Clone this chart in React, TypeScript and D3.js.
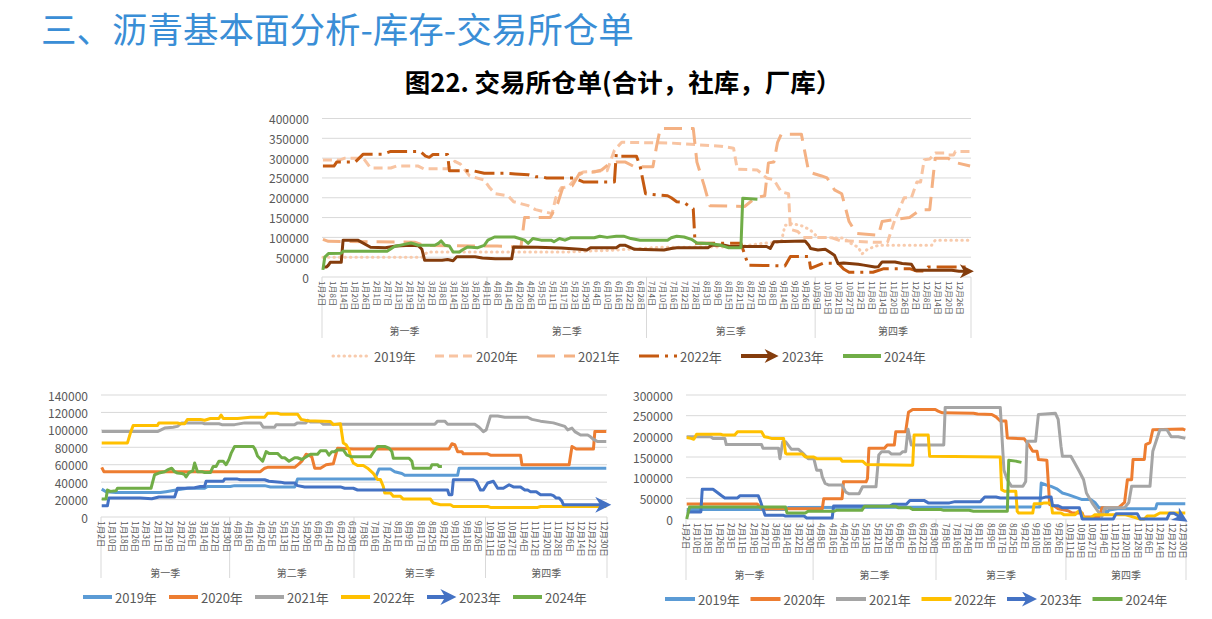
import React from "react";
import * as d3 from "d3";

type Pt = [number, number];

const FONT = '"Noto Sans CJK SC", "Noto Sans", sans-serif';
const N_CATS = 354;
const QUARTER_EDGES = [0, 90, 177, 269, 354];
const QUARTER_NAMES = ["第一季", "第二季", "第三季", "第四季"];
const YEARS = ["2019年", "2020年", "2021年", "2022年", "2023年", "2024年"];

const TOP_TICKS = [
  "1月2日", "1月8日", "1月14日", "1月20日", "1月26日", "2月1日", "2月7日", "2月13日", "2月19日", "2月25日", "3月2日", "3月8日", "3月14日", "3月20日", "3月26日",
  "4月1日", "4月8日", "4月14日", "4月20日", "4月26日", "5月5日", "5月11日", "5月17日", "5月23日", "5月29日", "6月4日", "6月10日", "6月16日", "6月22日", "6月28日",
  "7月4日", "7月10日", "7月16日", "7月22日", "7月28日", "8月3日", "8月9日", "8月15日", "8月21日", "8月27日", "9月2日", "9月8日", "9月14日", "9月20日", "9月26日",
  "10月9日", "10月15日", "10月21日", "10月27日", "11月2日", "11月8日", "11月14日", "11月20日", "11月26日", "12月2日", "12月8日", "12月14日", "12月20日", "12月26日",
];
const BOTTOM_TICKS = [
  "1月2日", "1月10日", "1月18日", "1月26日", "2月3日", "2月11日", "2月19日", "2月27日", "3月6日", "3月14日", "3月22日", "3月30日",
  "4月8日", "4月16日", "4月24日", "5月5日", "5月13日", "5月21日", "5月29日", "6月6日", "6月14日", "6月22日", "6月30日",
  "7月8日", "7月16日", "7月24日", "8月1日", "8月9日", "8月17日", "8月25日", "9月2日", "9月10日", "9月18日", "9月26日",
  "10月11日", "10月19日", "10月27日", "11月4日", "11月12日", "11月20日", "11月28日", "12月6日", "12月14日", "12月22日", "12月30日",
];

// ---------- Top chart: total (category index, value) ----------
const top2019: Pt[] = [[0,50000],[54,50000],[57,63000],[133,63000],[160,68000],[184,75000],[226,76000],[240,85000],[250,88000],[252,130000],[256,135000],[262,128000],[266,118000],[270,100000],[284,98000],[288,85000],[292,75000],[294,58000],[297,70000],[300,75000],[303,80000],[332,80000],[334,93000],[353,93000]];
const top2020: Pt[] = [[0,295000],[9,295000],[12,300000],[22,300000],[26,275000],[37,275000],[40,280000],[52,280000],[55,273000],[68,273000],[72,292000],[75,285000],[80,255000],[88,245000],[91,225000],[94,210000],[101,205000],[104,190000],[112,180000],[116,170000],[125,160000],[127,200000],[130,225000],[134,228000],[138,250000],[142,265000],[155,268000],[159,320000],[163,340000],[190,338000],[217,330000],[224,325000],[226,272000],[237,270000],[242,250000],[246,245000],[250,215000],[254,210000],[255,120000],[259,115000],[262,100000],[277,100000],[282,92000],[290,90000],[300,88000],[308,88000],[312,145000],[317,200000],[321,200000],[324,240000],[326,240000],[328,296000],[331,298000],[334,313000],[339,313000],[341,308000],[344,308000],[345,317000],[353,317000]];
const top2021: Pt[] = [[0,95000],[3,90000],[50,88000],[55,80000],[85,78000],[95,78000],[108,75000],[110,150000],[124,150000],[128,185000],[131,228000],[136,230000],[140,262000],[148,265000],[152,270000],[156,285000],[160,290000],[165,290000],[170,278000],[180,278000],[182,330000],[184,375000],[202,375000],[204,290000],[208,230000],[211,180000],[230,178000],[236,200000],[241,205000],[243,288000],[246,290000],[248,340000],[250,360000],[261,360000],[265,265000],[272,255000],[275,250000],[279,220000],[283,210000],[287,140000],[291,110000],[303,105000],[305,140000],[312,145000],[320,150000],[326,170000],[331,170000],[333,260000],[334,300000],[341,300000],[344,290000],[353,280000]];
const top2022: Pt[] = [[0,280000],[6,280000],[7.5,290000],[17.6,290000],[22,310000],[33,310000],[37,317000],[53,317000],[56,305000],[58,302000],[60,309000],[68,309000],[69,268000],[82,268000],[88,262000],[99,262000],[105,260000],[112,258000],[116,253000],[119,253000],[122,250000],[137,250000],[142,240000],[159,240000],[160,310000],[161,305000],[171,305000],[173,280000],[176,210000],[188,205000],[190,200000],[193,190000],[197,188000],[200,178000],[202,172000],[203,85000],[228,85000],[232,30000],[252,28000],[255,52000],[265,52000],[266,22000],[273,35000],[281,35000],[284,20000],[287,12000],[300,12000],[306,21000],[320,21000],[324,15000],[328,15000],[330,25000],[353,25000]];
const top2023: Pt[] = [[0,25000],[2,25000],[3,30000],[4,37000],[10,37000],[11,93000],[19,93000],[26,75000],[34,74000],[40,78000],[48,80000],[52,79000],[54,70000],[55.5,42000],[65,42000],[68,44000],[71,41000],[73,51000],[83,51000],[87,48000],[94,46000],[103,46000],[104,76000],[117,75000],[130,73000],[140,70000],[144,68000],[146,74000],[160,74000],[162,80000],[165,80000],[170,70000],[186,68000],[190,72000],[193,74000],[210,74000],[212,80000],[219,80000],[222,77000],[242,77000],[244,72000],[246,89000],[263,91000],[265,80000],[266,72000],[270,68000],[274,70000],[277,61000],[279,55000],[281,34000],[284,35500],[292,32000],[295,30000],[301,25000],[303,26000],[305,38000],[312,38000],[316,34000],[321,32000],[323,17000],[343,17000],[347,14500],[352,14500]];
const top2024: Pt[] = [[0,18000],[1,50000],[3,59000],[10,60000],[11,65000],[35,65000],[39,77000],[45,83000],[48,86000],[52,80000],[61,80000],[63,85000],[64.5,91000],[66.5,80000],[69,78000],[71,63000],[74.5,63000],[76,68000],[79,76000],[84.5,74000],[88,80000],[90,93000],[93.6,101000],[104.5,101000],[110,93000],[112,85000],[114.5,97000],[119,93000],[124.5,93000],[126,89000],[129,97000],[132,93000],[135,99000],[148,99000],[151,103000],[155,100000],[160,103000],[164,103000],[168,97000],[173,93000],[188,93000],[190,99000],[193,103000],[197,101000],[201,95000],[204,86000],[212,84000],[217,80000],[221,74000],[228,74000],[229,199000],[237,196000]];

// ---------- Bottom-left chart: (category index, value) ----------
const bl2019: Pt[] = [[0,32000],[3,29000],[10,28000],[41,28000],[45,29000],[52,31000],[60,33000],[72,33000],[74,35000],[90,35000],[93,36000],[114,36000],[118,34500],[135,34500],[137,43500],[191,43500],[194,55000],[202,55000],[205,52000],[210,50000],[212,48000],[249,48000],[250,56000],[353,56000]];
const bl2020: Pt[] = [[0,57000],[1.5,52000],[111,52000],[114,56000],[116,57000],[135,57000],[138,61000],[140,64000],[143,72000],[145,71000],[147,69000],[149,56000],[153,56000],[157,60000],[162,61000],[165,79000],[176,78000],[243,78000],[245,84000],[247,83000],[249,75000],[252,75000],[253,72500],[270,72500],[272,71000],[293,71000],[294,60000],[327,60000],[329,81000],[332,78000],[344,78000],[345,98000],[353,98000]];
const bl2021: Pt[] = [[0,98000],[39,98000],[44,102000],[50,103000],[53,104000],[56,108000],[70,108000],[72,107000],[82,107000],[84,106000],[93,106000],[100,108000],[111,108000],[113,103000],[121,103000],[122,106000],[135,106000],[137,108000],[143,108000],[144,111000],[146,109000],[153,109000],[155,106500],[233,106500],[235,110000],[240,110000],[242,106500],[261,106500],[264,103000],[267,98000],[269,100000],[272,116000],[277,116000],[282,114500],[298,114500],[301,112000],[307,110000],[316,108000],[320,106000],[324,104000],[326,100000],[329,102000],[331,98000],[335,94000],[340,94000],[342,92000],[344,89000],[347,86500],[353,86500]];
const bl2022: Pt[] = [[0,85000],[18,85000],[20,96000],[22,105000],[39,105000],[40,108000],[53,108000],[55,107000],[58,107000],[60,112000],[69,112000],[72,111000],[76,113000],[82,113000],[83.5,117000],[85,113000],[95,113000],[104,114500],[114,114500],[116,119000],[123,119000],[125,118000],[137,118000],[139.5,112000],[144,110500],[160,109500],[162,106000],[167,107000],[169,85000],[171,83000],[173,77000],[174,70000],[176,62000],[179,59000],[183,59000],[186,56000],[190,50000],[193,43000],[195,43000],[197,35000],[198,27500],[202,27500],[204,23700],[209,23700],[211,20600],[230,20600],[232,16000],[237,14000],[244,14000],[246,12000],[270,12000],[272,11000],[305,11000],[307,12000],[353,12000]];
const bl2023: Pt[] = [[0,13000],[4,13000],[5,21700],[27,21700],[35,21000],[40,23000],[51,23000],[53,33000],[58,33000],[65,33500],[69,35000],[72,35000],[73,41000],[85,41000],[86,43500],[95,43500],[97,42700],[114,42700],[117,41000],[125,40000],[128,39000],[135,39000],[137,36000],[142,34500],[167,34500],[170,33000],[176,33000],[179,31000],[242,31000],[243,25600],[245,25600],[246,42700],[260,42700],[262,41000],[265,31000],[267,31000],[270,39000],[274,41000],[277,33000],[281,33000],[285,37000],[288,34500],[293,34500],[296,31000],[298,31000],[300,29000],[304,29000],[307,25600],[314,25600],[316,24500],[318,21700],[320,21700],[322,18000],[323,14000],[352,14000]];
const bl2024: Pt[] = [[0,20600],[3,20600],[4,31000],[6,29400],[10,30000],[11,33000],[34.5,33000],[37,48500],[40,50400],[44,52000],[46,54000],[49,56000],[51,52000],[53,50400],[56,50000],[58,48500],[59,46000],[61,51000],[63.7,53000],[65,62000],[67,52000],[70,52000],[72,51000],[76,51000],[78,58000],[80,58000],[82,64000],[85,64000],[87,60000],[89,66000],[90.5,73000],[93,81000],[106,81000],[107.5,77000],[109,70000],[112.6,64000],[115,75000],[117,73000],[123,73000],[126,68000],[128,68000],[131,64000],[135,68000],[137,68000],[140,66000],[146,72000],[151,72000],[153,76000],[157,76000],[159,71000],[161,75000],[163,75000],[165,77000],[169,77000],[171.5,71000],[175,69000],[188,69000],[190,74000],[193,81000],[198,81000],[201,79000],[203,75000],[204,67500],[215,67500],[217,64000],[218,56000],[230,56000],[231,60000],[235,60000],[236,58000],[238,58000]];

// ---------- Bottom-right chart: (category index, value) ----------
const br2019: Pt[] = [[0,23000],[70,23000],[72,28000],[250,29000],[251,87000],[254,83000],[258,79000],[262,73000],[266,63000],[270,59000],[280,47000],[286,47000],[289,40000],[292,27000],[296,27000],[297,12000],[299,22000],[305,25000],[332,25000],[333,37000],[353,37000]];
const br2020: Pt[] = [[0,36000],[50,36000],[53,25000],[96,25000],[97,49000],[110,49000],[111,90000],[127,90000],[128,98000],[129,171000],[140,171000],[142,179000],[147,179000],[148,211000],[155,211000],[157,258000],[160,265000],[176,265000],[178,261000],[181,257000],[203,256000],[206,254000],[216,253000],[219,247000],[222,237000],[226,237000],[227,196000],[239,194000],[242,180000],[245,164000],[248,164000],[249,144000],[255,142000],[257,35000],[260,32000],[263,25000],[270,20000],[273,14500],[280,14500],[281,5000],[292,5000],[294,27000],[302,27000],[306,28000],[310,40000],[312,95000],[315,95000],[316,144000],[324,144000],[325,180000],[328,185000],[330,216000],[351,218000],[353,215000]];
const br2021: Pt[] = [[0,199000],[17,199000],[18.5,195000],[27,195000],[28,180000],[53,180000],[54,171000],[65,171000],[66,146000],[68,187000],[70,187000],[72,178000],[74,169000],[79,169000],[82,160000],[86,146000],[90,146000],[92,118000],[95,118000],[96,102000],[98,86000],[100.7,82000],[110,82000],[112.6,65000],[115,61000],[122,61000],[124.5,78000],[134,78000],[136,155000],[138,163000],[143,163000],[145,157000],[151,157000],[153,163000],[155,163000],[156.7,217000],[159,179000],[182,179000],[183,270000],[222,270000],[224.6,118000],[227,95000],[230,79000],[238,79000],[240,91000],[241,188000],[247,188000],[249,253000],[261,256000],[263,241000],[265,176000],[266,152000],[272,152000],[274,140000],[278,115000],[281,95000],[283,63000],[287,39000],[292,14500],[294,6500],[296,27000],[310,27000],[313,40000],[315,79000],[328,79000],[330,164000],[335,216000],[340,216000],[343,199000],[348,199000],[353,195000]];
const br2022: Pt[] = [[0,197000],[3,195000],[5,193000],[7,205000],[24,205000],[26,203000],[34,203000],[36,211000],[53,211000],[55,199000],[58,197000],[60,195000],[68.6,195000],[70,159000],[71,157000],[82,157000],[84,150000],[90,150000],[92,146000],[109,146000],[110,140000],[124.5,140000],[127,132000],[160,130000],[161,203000],[171,203000],[172,152000],[222,150000],[223,71000],[225,67000],[233,67000],[234,18600],[235,14500],[245,14500],[246,37000],[251,37000],[253,39000],[258,39000],[259,14500],[265,14500],[267,10500],[275,10500],[277,18000],[279,18000],[281,2400],[286,2400],[289,10500],[310,10500],[314,7000],[321,0],[324,0],[326,7000],[331,7000],[335,14500],[353,14500]];
const br2023: Pt[] = [[0,17000],[10,17000],[11,72000],[18.6,72000],[21,66000],[24.5,57000],[27,51000],[36,51000],[37.6,56000],[50.7,56000],[52,45000],[55.5,9000],[68.6,9000],[70,7000],[83,7000],[85,2400],[103,2400],[104,31500],[143.6,31500],[146,35600],[155.5,35600],[158,45000],[168,45000],[171,39000],[186,39000],[190,42000],[208,42000],[211,53000],[219,53000],[222,51000],[252,51000],[254,53000],[258,53000],[259,32000],[263,32000],[266,27000],[278,27000],[280,0],[302,0],[304,13000],[319,13000],[321,0],[340,0],[342,14000],[345,14000],[351,1000]];
const br2024: Pt[] = [[0,0],[2,29000],[70,29000],[71,14500],[84,14500],[86,18600],[104,18600],[106,21000],[124,21000],[126,31000],[148,31000],[150,27000],[158,27000],[160,23000],[180,23000],[182,21000],[200,21000],[203,18600],[227,18600],[228,142000],[233,140000],[237,137000]];

interface SeriesStyle {
  color: string;
  dash?: string;
  cap?: "round" | "butt";
  arrow?: boolean;
}

const TOP_STYLES: SeriesStyle[] = [
  { color: "#F8CBAD", dash: "0.5 5", cap: "round" },
  { color: "#F8C4A2", dash: "9 5" },
  { color: "#F4B183", dash: "18 9" },
  { color: "#C55A11", dash: "20 6 3 6" },
  { color: "#843C0C", arrow: true },
  { color: "#70AD47" },
];
const BOTTOM_STYLES: SeriesStyle[] = [
  { color: "#5B9BD5" },
  { color: "#ED7D31" },
  { color: "#A5A5A5" },
  { color: "#FFC000" },
  { color: "#4472C4", arrow: true },
  { color: "#70AD47" },
];

interface PanelCfg {
  id: string;
  left: number;
  right: number;
  yZero: number;
  yTop: number;
  yMax: number;
  yStep: number;
  labelX: number;
  ticks: string[];
  tickStep: number;
  tickFont: number;
  tickY: number;
  quarterY: number;
  dividerBottom: number;
  legendY: number;
  legendX0: number;
  legendStep: number;
  legendLine: number;
  arrowW: number;
  arrowH: number;
  series: Pt[][];
  styles: SeriesStyle[];
}

const GRAY_TEXT = "#595959";

function Panel({ cfg }: { cfg: PanelCfg }) {
  const x = d3.scaleLinear().domain([0, N_CATS]).range([cfg.left, cfg.right]);
  const y = d3.scaleLinear().domain([0, cfg.yMax]).range([cfg.yZero, cfg.yTop]);
  const line = d3
    .line<Pt>()
    .x((d) => x(d[0] + 0.5))
    .y((d) => y(d[1]));
  const yTicks = d3.range(0, cfg.yMax + 1, cfg.yStep);

  return (
    <g>
      <defs>
        {cfg.styles.map((s, i) =>
          s.arrow ? (
            <marker
              key={i}
              id={`${cfg.id}-arrow-${i}`}
              viewBox="0 0 10 10"
              refX={6}
              refY={5}
              markerWidth={cfg.arrowW}
              markerHeight={cfg.arrowH}
              markerUnits="userSpaceOnUse"
              orient="auto"
            >
              <path d="M0,0 L10,5 L0,10 L3,5 Z" fill={s.color} />
            </marker>
          ) : null
        )}
      </defs>
      {yTicks.map((t) => (
        <g key={t}>
          <line x1={cfg.left} x2={cfg.right} y1={y(t)} y2={y(t)} stroke="#D9D9D9" strokeWidth={1} />
          <text
            x={cfg.labelX}
            y={y(t)}
            textAnchor="end"
            dominantBaseline="central"
            fontSize={12}
            fill={GRAY_TEXT}
            fontFamily={FONT}
          >
            {t}
          </text>
        </g>
      ))}
      {QUARTER_EDGES.map((b, i) => (
        <line
          key={`div${i}`}
          x1={x(b)}
          x2={x(b)}
          y1={cfg.yZero}
          y2={cfg.dividerBottom}
          stroke="#D9D9D9"
          strokeWidth={1}
        />
      ))}
      {QUARTER_NAMES.map((q, i) => (
        <text
          key={q}
          x={(x(QUARTER_EDGES[i]) + x(QUARTER_EDGES[i + 1])) / 2}
          y={cfg.quarterY}
          textAnchor="middle"
          dominantBaseline="central"
          fontSize={10}
          fill={GRAY_TEXT}
          fontFamily={FONT}
        >
          {q}
        </text>
      ))}
      {cfg.ticks.map((lab, i) => {
        const tx = x(i * cfg.tickStep + 0.5);
        return (
          <text
            key={`t${i}`}
            transform={`translate(${tx},${cfg.tickY}) rotate(90)`}
            textAnchor="start"
            dominantBaseline="central"
            fontSize={cfg.tickFont}
            fill={GRAY_TEXT}
            fontFamily={FONT}
          >
            {lab}
          </text>
        );
      })}
      {cfg.series.map((data, i) => {
        const s = cfg.styles[i];
        return (
          <path
            key={`s${i}`}
            d={line(data) || ""}
            fill="none"
            stroke={s.color}
            strokeWidth={3}
            strokeDasharray={s.dash}
            strokeLinecap={s.cap || "butt"}
            strokeLinejoin="round"
            markerEnd={s.arrow ? `url(#${cfg.id}-arrow-${i})` : undefined}
          />
        );
      })}
      {YEARS.map((yr, i) => {
        const s = cfg.styles[i];
        const lx = cfg.legendX0 + i * cfg.legendStep;
        return (
          <g key={yr}>
            <line
              x1={lx}
              x2={lx + cfg.legendLine - (s.arrow ? 6 : 0)}
              y1={cfg.legendY}
              y2={cfg.legendY}
              stroke={s.color}
              strokeWidth={s.dash ? 3 : 4}
              strokeDasharray={s.dash}
              strokeLinecap={s.cap || "butt"}
              markerEnd={s.arrow ? `url(#${cfg.id}-arrow-${i})` : undefined}
            />
            <text
              x={lx + cfg.legendLine + 3}
              y={cfg.legendY}
              dominantBaseline="central"
              fontSize={13}
              fill={GRAY_TEXT}
              fontFamily={FONT}
            >
              {yr}
            </text>
          </g>
        );
      })}
    </g>
  );
}

const TOP_CFG: PanelCfg = {
  id: "top",
  left: 322,
  right: 971,
  yZero: 277,
  yTop: 118.5,
  yMax: 400000,
  yStep: 50000,
  labelX: 309,
  ticks: TOP_TICKS,
  tickStep: 6,
  tickFont: 8,
  tickY: 281,
  quarterY: 330,
  dividerBottom: 338,
  legendY: 356,
  legendX0: 333,
  legendStep: 102,
  legendLine: 38,
  arrowW: 17,
  arrowH: 14,
  series: [top2019, top2020, top2021, top2022, top2023, top2024],
  styles: TOP_STYLES,
};

const BL_CFG: PanelCfg = {
  id: "bl",
  left: 101,
  right: 607,
  yZero: 517,
  yTop: 395,
  yMax: 140000,
  yStep: 20000,
  labelX: 88,
  ticks: BOTTOM_TICKS,
  tickStep: 8,
  tickFont: 8.5,
  tickY: 521,
  quarterY: 572,
  dividerBottom: 578,
  legendY: 597,
  legendX0: 83,
  legendStep: 86,
  legendLine: 29,
  arrowW: 19,
  arrowH: 16,
  series: [bl2019, bl2020, bl2021, bl2022, bl2023, bl2024],
  styles: BOTTOM_STYLES,
};

const BR_CFG: PanelCfg = {
  id: "br",
  left: 686,
  right: 1186,
  yZero: 519,
  yTop: 395,
  yMax: 300000,
  yStep: 50000,
  labelX: 673,
  ticks: BOTTOM_TICKS,
  tickStep: 8,
  tickFont: 8.5,
  tickY: 523,
  quarterY: 574,
  dividerBottom: 580,
  legendY: 599,
  legendX0: 665,
  legendStep: 85.5,
  legendLine: 30,
  arrowW: 17,
  arrowH: 15,
  series: [br2019, br2020, br2021, br2022, br2023, br2024],
  styles: BOTTOM_STYLES,
};

export default function App() {
  return (
    <svg
      width={1212}
      height={619}
      style={{ position: "absolute", left: 0, top: 0, background: "#FFFFFF" }}
    >
      <rect x={0} y={0} width={1212} height={619} fill="#FFFFFF" />
      <text x={41} y={43} fontSize={35.5} fill="#3A8ED6" fontFamily={FONT}>
        三、沥青基本面分析-库存-交易所仓单
      </text>
      <text
        x={623}
        y={92}
        fontSize={25.5}
        fontWeight="bold"
        fill="#000000"
        textAnchor="middle"
        fontFamily={FONT}
      >
        图22. 交易所仓单(合计，社库，厂库）
      </text>
      <Panel cfg={TOP_CFG} />
      <Panel cfg={BL_CFG} />
      <Panel cfg={BR_CFG} />
    </svg>
  );
}
